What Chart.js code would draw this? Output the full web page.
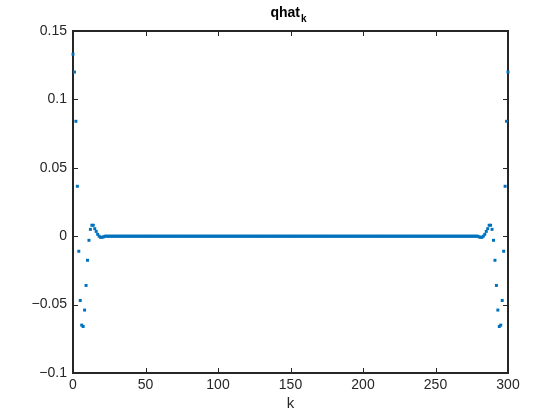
<!DOCTYPE html>
<html>
<head>
<meta charset="utf-8">
<script src="https://cdn.jsdelivr.net/npm/chart.js@4.4.1/dist/chart.umd.min.js"></script>
<style>
html, body { margin: 0; padding: 0; background: #fff; }
</style>
</head>
<body>
<canvas id="chart" width="560" height="420"></canvas>
<script>
// qhat_k, k = 0..300
const headValues = [0.133, 0.12, 0.084, 0.0365, -0.011, -0.047, -0.065, -0.066, -0.054, -0.036,
  -0.0176, -0.003, 0.005, 0.008, 0.008, 0.0055, 0.0035, 0.0014, 0, -0.0008, -0.0008, -0.0005];
// k = 22..279, tudo zero
const midValues = [
  0,0,0,0,0,0,0,0,0,0, 0,0,0,0,0,0,0,0,0,0,
  0,0,0,0,0,0,0,0,0,0, 0,0,0,0,0,0,0,0,0,0,
  0,0,0,0,0,0,0,0,0,0, 0,0,0,0,0,0,0,0,0,0,
  0,0,0,0,0,0,0,0,0,0, 0,0,0,0,0,0,0,0,0,0,
  0,0,0,0,0,0,0,0,0,0, 0,0,0,0,0,0,0,0,0,0,
  0,0,0,0,0,0,0,0,0,0, 0,0,0,0,0,0,0,0,0,0,
  0,0,0,0,0,0,0,0,0,0, 0,0,0,0,0,0,0,0,0,0,
  0,0,0,0,0,0,0,0,0,0, 0,0,0,0,0,0,0,0,0,0,
  0,0,0,0,0,0,0,0,0,0, 0,0,0,0,0,0,0,0,0,0,
  0,0,0,0,0,0,0,0,0,0, 0,0,0,0,0,0,0,0,0,0,
  0,0,0,0,0,0,0,0,0,0, 0,0,0,0,0,0,0,0,0,0,
  0,0,0,0,0,0,0,0,0,0, 0,0,0,0,0,0,0,0,0,0,
  0,0,0,0,0,0,0,0,0,0, 0,0,0,0,0,0,0,0
];
// k = 280..300
const tailValues = [-0.0005, -0.0008, -0.0008, 0, 0.0014, 0.0035, 0.0055, 0.008, 0.008, 0.005,
  -0.003, -0.0176, -0.036, -0.054, -0.066, -0.065, -0.047, -0.011, 0.0365, 0.084, 0.12];

const qhat = headValues.concat(midValues, tailValues);
if (qhat.length !== 301) console.error('qhat tem ' + qhat.length + ' pontos');

const xTicks = [0, 50, 100, 150, 200, 250, 300];
const xTickLabels = ['0', '50', '100', '150', '200', '250', '300'];
const yTicks = [-0.1, -0.05, 0, 0.05, 0.1, 0.15];
const yTickLabels = ['\u22120.1', '\u22120.05', '0', '0.05', '0.1', '0.15'];

const FONT = 'Liberation Sans';
const AXIS_COLOR = '#262626';

// caixa, ticks para dentro e título com subscrito
const framePlugin = {
  id: 'frame',
  beforeDatasetsDraw(chart) {
    const { ctx, chartArea: a, scales } = chart;
    ctx.save();
    ctx.strokeStyle = AXIS_COLOR;
    ctx.lineWidth = 1;
    ctx.beginPath();
    xTicks.forEach(v => {
      const p = Math.round(scales.x.getPixelForValue(v)) + 0.5;
      ctx.moveTo(p, a.bottom); ctx.lineTo(p, a.bottom - 5);
      ctx.moveTo(p, a.top); ctx.lineTo(p, a.top + 5);
    });
    yTicks.forEach(v => {
      const p = Math.round(scales.y.getPixelForValue(v)) + 0.5;
      ctx.moveTo(a.left, p); ctx.lineTo(a.left + 5, p);
      ctx.moveTo(a.right, p); ctx.lineTo(a.right - 5, p);
    });
    ctx.stroke();
    ctx.lineWidth = 2;
    ctx.strokeRect(a.left, a.top, a.right - a.left, a.bottom - a.top);

    // título "qhat" com k subscrito
    ctx.fillStyle = '#000';
    ctx.textBaseline = 'alphabetic';
    ctx.textAlign = 'left';
    ctx.font = 'bold 14px "' + FONT + '"';
    const w1 = ctx.measureText('qhat').width;
    ctx.font = 'bold 10px "' + FONT + '"';
    const w2 = ctx.measureText('k').width;
    const cx = (a.left + a.right) / 2;
    const x0 = cx - (w1 + w2 + 1) / 2 - 2;
    ctx.font = 'bold 14px "' + FONT + '"';
    ctx.fillText('qhat', x0, 17);
    ctx.font = 'bold 10px "' + FONT + '"';
    ctx.fillText('k', x0 + w1 + 1, 22);
    ctx.restore();
  }
};

new Chart(document.getElementById('chart'), {
  type: 'scatter',
  data: {
    datasets: [{
      data: qhat.map((v, k) => ({ x: k, y: v })),
      backgroundColor: '#0072BD',
      borderWidth: 0,
      pointStyle: 'rect',
      pointRadius: 2.1,
      pointHoverRadius: 2.1,
      clip: false
    }]
  },
  options: {
    responsive: false,
    animation: false,
    layout: { padding: { left: 0, top: 31, right: 52, bottom: 0 } },
    plugins: {
      legend: { display: false },
      tooltip: { enabled: false },
      title: { display: false }
    },
    scales: {
      x: {
        type: 'linear',
        min: 0,
        max: 300,
        afterBuildTicks: s => { s.ticks = xTicks.map(v => ({ value: v })); },
        afterFit: s => { s.height = 47; },
        grid: { display: false, drawTicks: false },
        border: { display: false },
        ticks: {
          padding: 4,
          color: AXIS_COLOR,
          maxRotation: 0,
          autoSkip: false,
          font: { family: FONT, size: 14 },
          callback: (v, i) => xTickLabels[i]
        },
        title: {
          display: true,
          text: 'k',
          color: AXIS_COLOR,
          font: { family: FONT, size: 15 },
          padding: { top: 0, bottom: 7 }
        }
      },
      y: {
        min: -0.1,
        max: 0.15,
        afterBuildTicks: s => { s.ticks = yTicks.map(v => ({ value: v })); },
        afterFit: s => { s.width = 73; },
        grid: { display: false, drawTicks: false },
        border: { display: false },
        ticks: {
          padding: 6,
          color: AXIS_COLOR,
          autoSkip: false,
          font: { family: FONT, size: 14 },
          callback: (v, i) => yTickLabels[i]
        }
      }
    }
  },
  plugins: [framePlugin]
});
</script>
</body>
</html>
